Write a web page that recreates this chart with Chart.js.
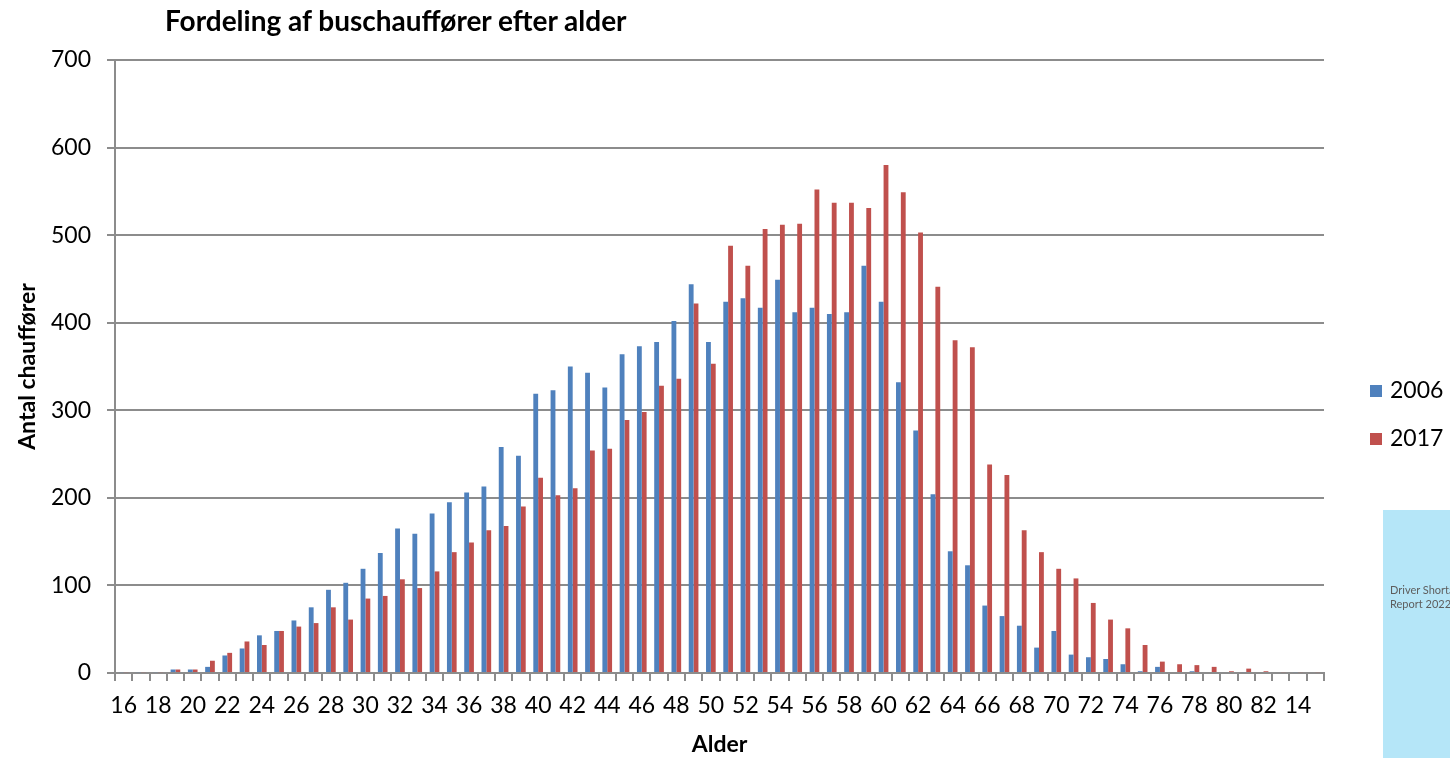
<!DOCTYPE html>
<html>
<head>
  <meta charset="utf-8">
  <title>Fordeling af buschauffører efter alder</title>
  <script src="https://cdn.jsdelivr.net/npm/chart.js@4.4.1/dist/chart.umd.min.js"></script>
  <style>
    body { margin: 0; background: #fff; font-family: Lato, sans-serif; }
    #wrap { position: relative; width: 1450px; height: 758px; overflow: hidden; }
    #myChart { position: absolute; left: 0; top: 0; }
    .title { position: absolute; left: 165px; top: 3px; font-size: 28px; font-weight: bold; color: #000; }
    .leg { position: absolute; left: 1370px; font-size: 23px; color: #000; line-height: 28px; }
    .leg span { display: inline-block; width: 12px; height: 12px; margin-right: 8px; vertical-align: 1px; }
    .note { position: absolute; left: 1383px; top: 510px; width: 67px; height: 248px; background: #b5e6f8; overflow: hidden; }
    .note div { position: absolute; left: 7px; top: 73px; font-size: 11px; line-height: 14px; color: #5e5e5e; white-space: nowrap; }
  </style>
</head>
<body>
<div id="wrap">
  <canvas id="myChart" width="1450" height="758"></canvas>
  <div class="title">Fordeling af buschauffører efter alder</div>
  <div class="leg" style="top:375px"><span style="background:#4f81bd"></span>2006</div>
  <div class="leg" style="top:423px"><span style="background:#c0504d"></span>2017</div>
  <div class="note"><div>Driver Shortage<br>Report 2022</div></div>
</div>
<script>
// alder 16..83, then two stray categories at the end (as in the source sheet)
const ages = ['16','17','18','19','20','21','22','23','24','25','26','27','28','29','30','31','32','33','34','35',
  '36','37','38','39','40','41','42','43','44','45','46','47','48','49','50','51','52','53','54','55',
  '56','57','58','59','60','61','62','63','64','65','66','67','68','69','70','71','72','73','74','75',
  '76','77','78','79','80','81','82','83','14','15'];

const drivers2006 = [1,1,1,4,4,7,20,28,43,48,60,75,95,103,119,137,165,159,182,195,
  206,213,258,248,319,323,350,343,326,364,373,378,402,444,378,424,428,417,449,412,
  417,410,412,465,424,332,277,204,139,123,77,65,54,29,48,21,18,16,10,2,
  7,0,2,0,0,1,0,0,1,0];

const drivers2017 = [1,1,1,4,4,14,23,36,32,48,53,57,75,61,85,88,107,97,116,138,
  149,163,168,190,223,203,211,254,256,289,298,328,336,422,353,488,465,507,512,513,
  552,537,537,531,580,549,503,441,380,372,238,226,163,138,119,108,80,61,51,32,
  13,10,9,7,2,5,2,1,1,1];

const yTicks = [0,100,200,300,400,500,600,700];

const gridCol = '#8c8c8c';
const ctx = document.getElementById('myChart').getContext('2d');
const myChart = new Chart(ctx, {
  type: 'bar',
  data: {
    labels: ages,
    datasets: [
      { label: '2006', data: drivers2006, backgroundColor: '#4f81bd', barPercentage: 1, categoryPercentage: 0.56 },
      { label: '2017', data: drivers2017, backgroundColor: '#c0504d', barPercentage: 1, categoryPercentage: 0.56 }
    ]
  },
  options: {
    responsive: false,
    animation: false,
    devicePixelRatio: 1,
    layout: { padding: { left: 0, top: 60, right: 126, bottom: 0 } },
    plugins: { legend: { display: false }, tooltip: { enabled: false } },
    scales: {
      x: {
        grid: { drawOnChartArea: false, drawTicks: true, tickLength: 8, color: gridCol, lineWidth: 2, offset: true },
        border: { color: gridCol, width: 2 },
        ticks: {
          autoSkip: false, maxRotation: 0, minRotation: 0, padding: 11, color: '#000',
          font: { family: 'Lato', size: 23 },
          callback: function (v, i) { return i % 2 === 0 ? this.getLabelForValue(v) : ''; }
        },
        title: { display: true, text: 'Alder', color: '#000', padding: 0, font: { family: 'Lato', size: 23, weight: 'bold' } },
        afterFit: function (s) { s.height = 85; }
      },
      y: {
        min: 0, max: 700,
        afterBuildTicks: function (s) { s.ticks = yTicks.map(v => ({ value: v })); },
        grid: { color: gridCol, lineWidth: 2, tickLength: 8 },
        border: { color: gridCol, width: 2 },
        ticks: { padding: 16, color: '#000', font: { family: 'Lato', size: 23 } },
        title: { display: true, text: 'Antal chauffører', color: '#000', padding: { top: 14 }, font: { family: 'Lato', size: 23, weight: 'bold' } },
        afterFit: function (s) { s.width = 115; }
      }
    }
  }
});
</script>
</body>
</html>
